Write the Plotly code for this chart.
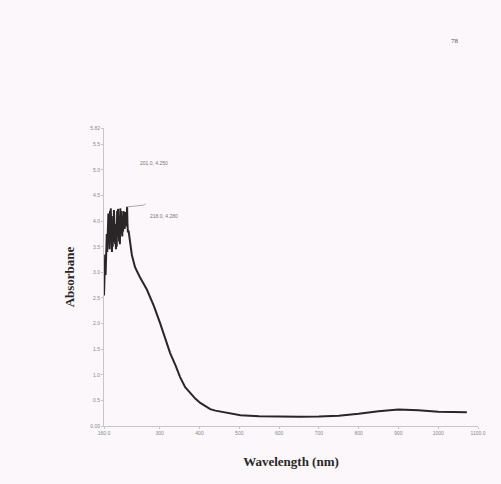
import plotly.graph_objects as go

# Absorbance spectrum: noisy saturated UV region followed by the smooth decay
wl_uv = [160, 161, 162, 163, 164, 165, 166, 167, 168, 169, 170, 171, 172, 173, 174,
         175, 176, 177, 178, 179, 180, 181, 182, 183, 184, 185, 186, 187, 188, 189,
         190, 191, 192, 193, 194, 195, 196, 197, 198, 199, 200, 201, 202, 203, 204,
         205, 206, 207, 208, 209, 210, 211, 212, 213, 214, 215, 216, 217, 218, 219,
         220, 222, 225]
abs_uv = [2.55, 3.05, 2.70, 3.35, 2.95, 3.55, 3.20, 3.75, 3.40, 4.05, 3.50, 4.15, 3.60, 3.95, 3.45,
          4.20, 3.70, 4.25, 3.55, 3.90, 3.40, 3.80, 3.50, 4.10, 3.60, 4.22, 3.75, 4.15, 3.55, 3.95,
          3.45, 3.85, 3.50, 4.20, 3.70, 4.24, 3.80, 4.10, 3.60, 4.00, 3.55, 4.25, 3.75, 4.20, 3.85,
          4.15, 3.70, 4.10, 3.80, 4.20, 3.90, 4.05, 3.85, 4.18, 3.95, 4.05, 3.90, 4.00, 4.28, 3.95,
          3.80, 3.80, 3.62]

wl_vis = [230, 238, 250, 268, 285, 301, 315, 326, 340, 351, 364, 377, 390, 402, 415,
          427, 440, 452, 480, 503, 550, 600, 650, 700, 750, 800, 850, 900, 950, 1000, 1040, 1072]
abs_vis = [3.34, 3.10, 2.91, 2.66, 2.35, 2.01, 1.70, 1.43, 1.18, 0.96, 0.76, 0.64, 0.53, 0.45, 0.38,
           0.33, 0.30, 0.28, 0.24, 0.21, 0.19, 0.18, 0.18, 0.185, 0.20, 0.24, 0.29, 0.32, 0.31, 0.28,
           0.27, 0.27]

wavelength = wl_uv + wl_vis
absorbance = abs_uv + abs_vis

x_ticks = [160, 300, 400, 500, 600, 700, 800, 900, 1000, 1100]
x_labels = ["160.0", "300", "400", "500", "600", "700", "800", "900", "1000", "1100.0"]
y_ticks = [0, 0.5, 1.0, 1.5, 2.0, 2.5, 3.0, 3.5, 4.0, 4.5, 5.0, 5.5, 5.82]
y_labels = ["0.00", "0.5", "1.0", "1.5", "2.0", "2.5", "3.0", "3.5", "4.0", "4.5", "5.0", "5.5", "5.82"]

peak_main = (218, 4.28)
peak_second = (201, 4.25)

paper = "#fbf7fa"
ink = "#2a2628"
grey = "#9a9598"

fig = go.Figure()
fig.add_trace(go.Scatter(
    x=wavelength, y=absorbance, mode="lines",
    line=dict(color=ink, width=2), hoverinfo="skip", showlegend=False,
))

# leader line from the main peak to its label
fig.add_shape(type="line", x0=peak_main[0], y0=peak_main[1], x1=258, y1=4.31,
              line=dict(color=grey, width=0.8))
fig.add_annotation(x=258, y=4.31, text="", showarrow=True, ax=4, ay=-2,
                   arrowhead=0, arrowwidth=0.8, arrowcolor=grey)
fig.add_annotation(x=270, y=4.10, xanchor="left",
                   text=f"{peak_main[0]:.1f}, {peak_main[1]:.3f}",
                   showarrow=False, font=dict(size=5, color="#777", family="Liberation Sans"))
fig.add_annotation(x=245, y=5.14, xanchor="left",
                   text=f"{peak_second[0]:.1f}, {peak_second[1]:.3f}",
                   showarrow=False, font=dict(size=5, color="#777", family="Liberation Sans"))

# page number
fig.add_annotation(xref="paper", yref="paper", x=0.938, y=1.312, xanchor="center",
                   text="78", showarrow=False,
                   font=dict(size=7, color="#555", family="Liberation Serif"))

fig.update_layout(
    width=501, height=484,
    margin=dict(l=104, r=23, t=128, b=58),
    paper_bgcolor=paper, plot_bgcolor=paper,
    font=dict(family="Liberation Serif", color=ink),
    xaxis=dict(
        range=[160, 1100], tickvals=x_ticks, ticktext=x_labels,
        showgrid=False, zeroline=False, showline=True, linecolor="#c9c4c7", linewidth=1,
        ticks="outside", ticklen=2, tickcolor="#c9c4c7",
        tickfont=dict(size=5, color="#888", family="Liberation Sans"),
        title=dict(text="<b>Wavelength (nm)</b>", standoff=21,
                   font=dict(size=13, color=ink, family="Liberation Serif")),
    ),
    yaxis=dict(
        range=[0, 5.82], tickvals=y_ticks, ticktext=y_labels,
        showgrid=False, zeroline=False, showline=True, linecolor="#c9c4c7", linewidth=1,
        ticks="outside", ticklen=2, tickcolor="#c9c4c7",
        tickfont=dict(size=5, color="#888", family="Liberation Sans"),
        title=dict(text="<b>Absorbane</b>", standoff=12,
                   font=dict(size=13, color=ink, family="Liberation Serif")),
    ),
)

fig.write_html("out.html")
